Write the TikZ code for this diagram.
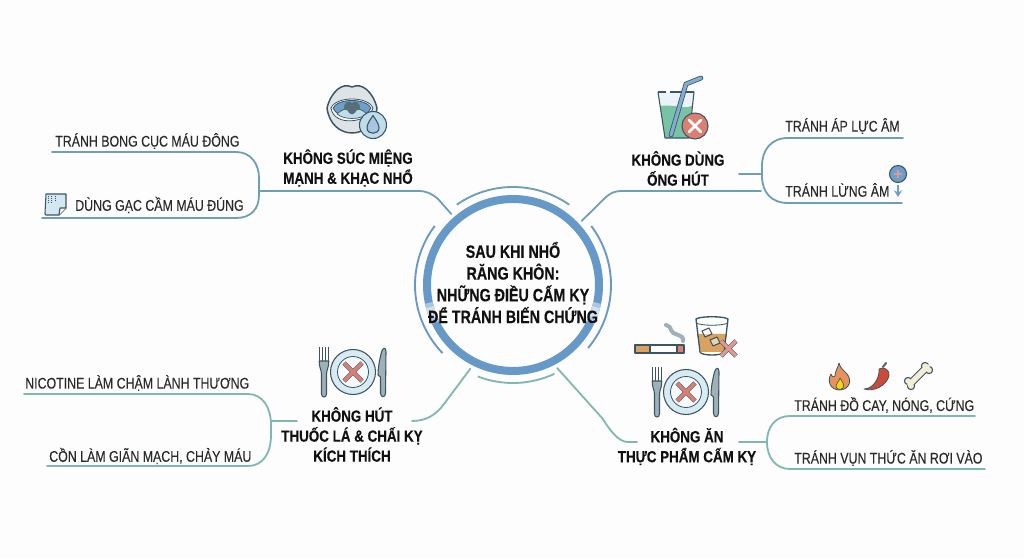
\documentclass[tikz,border=0pt]{standalone}
\usepackage{fontspec}
\usetikzlibrary{arrows.meta}
\setmainfont[FakeStretch=0.80,FakeBold=0.12]{Liberation Sans}
\newfontfamily\hubfont[FakeStretch=0.80,BoldFeatures={FakeBold=0.3}]{Liberation Sans}
\newfontfamily\branchfont[FakeStretch=0.83,BoldFeatures={FakeBold=0.3}]{Liberation Sans}
\definecolor{bgc}{HTML}{FDFDFD}
\definecolor{ringb}{HTML}{6699C7}
\definecolor{lineb}{HTML}{6F9FB5}
\definecolor{linet}{HTML}{7FB8B0}
\definecolor{ink}{HTML}{111111}
\definecolor{icoline}{HTML}{3C5563}
\definecolor{icoblue}{HTML}{6C9FC9}
\definecolor{icopale}{HTML}{BFDDEB}
\definecolor{icored}{HTML}{DC7F73}
\definecolor{icogrey}{HTML}{9FB0B8}
\definecolor{icoteal}{HTML}{78C3A5}
\definecolor{whisky}{HTML}{D9A35F}
\definecolor{flame}{HTML}{E8935A}
\definecolor{chili}{HTML}{CB4B36}
\definecolor{bonec}{HTML}{F3EDD6}
\tikzset{
 hubtext/.style={font=\hubfont\bfseries\fontsize{13.4}{16.3}\selectfont,align=center,text=ink,inner sep=0pt},
 branchtext/.style={font=\branchfont\bfseries\fontsize{12.1}{15}\selectfont,align=center,text=ink,inner sep=0pt},
 leaftext/.style={font=\fontsize{11.6}{14}\selectfont,text=ink!90,inner sep=0pt},
 bluelink/.style={draw=lineb,line width=1.35pt,line cap=round},
 teallink/.style={draw=linet,line width=1.35pt,line cap=round},
 ico/.style={draw=icoline,line width=0.8pt,line join=round},
}
\newcommand{\plateicon}[2]{%
 \begin{scope}[shift={(#1,#2)}]
  \fill[icopale!60,ico] (0,0) circle (22.5);
  \fill[icopale!15,ico,line width=0.6pt] (0,0) circle (15.5);
  \draw[icoline,line width=3.4pt] (-9,-9)--(9,9) (-9,9)--(9,-9);
  \draw[icored,line width=2.4pt] (-9,-9)--(9,9) (-9,9)--(9,-9);
  % fork
  \foreach \t in {-33.5,-30.5,-27.5,-24.5}{\draw[icoline,line width=0.95pt] (\t,-25)--(\t,-10);}
  \draw[ico,fill=icogrey] (-33.8,-11) .. controls (-33.8,-4) and (-31.8,-3) .. (-31.5,2) -- (-31.5,22) .. controls (-31.5,26) and (-26.5,26) .. (-26.5,22) -- (-26.5,2) .. controls (-26.2,-3) and (-24.2,-4) .. (-24.2,-11) -- cycle;
  % knife
  \draw[ico,fill=icogrey] (27.5,21) .. controls (27.5,26) and (32.5,26) .. (32.5,21) -- (33,-20) .. controls (33,-25) and (30,-25) .. (28.5,-20) .. controls (26,-10) and (25,-3) .. (25,3) -- (27.5,5) -- cycle;
 \end{scope}}
\newcommand{\crossball}[3]{%
  \fill[icored,ico] (#1,#2) circle (#3);
  \draw[white,line width=2pt,line cap=round] (#1-6,#2-6)--(#1+6,#2+6) (#1-6,#2+6)--(#1+6,#2-6);}
\begin{document}
\begin{tikzpicture}[x=0.75pt,y=-0.75pt]
\useasboundingbox (0,0) rectangle (1024,559);
\fill[bgc] (0,0) rectangle (1024,559);

% hub
\node[circle,minimum size=141pt,inner sep=0pt,outer sep=0pt] (hub) at (513,285) {};
\draw[ringb,line width=6pt] (hub.center) circle (86);
\draw[ringb!55,line width=6pt] ([shift={(12:86)}]hub.center) arc (12:26:86);
\draw[ringb!55,line width=6pt] ([shift={(168:86)}]hub.center) arc (168:154:86);
\draw[ringb!30,line width=6pt] ([shift={(15:86)}]hub.center) arc (15:22:86);
\draw[ringb!30,line width=6pt] ([shift={(165:86)}]hub.center) arc (165:158:86);
\draw[lineb,line width=1.4pt] ([shift={(-125:98)}]hub.center) arc (-125:-55:98);
\draw[ringb,line width=1.4pt] ([shift={(-37:98)}]hub.center) arc (-37:40:98);
\draw[ringb,line width=1.4pt] ([shift={(-143:98)}]hub.center) arc (-143:-224:98);
\draw[linet,line width=1.4pt] ([shift={(111:98)}]hub.center) arc (111:65:98);
\node[hubtext] (hubt) at (513,282.5) {SAU KHI NHỔ\\RĂNG KHÔN:\\NHỮNG ĐIỀU CẤM KỴ\\ĐỂ TRÁNH BIẾN CHỨNG};

% branch labels
\node[branchtext] (b1) at (348,168) {KHÔNG SÚC MIỆNG\\MẠNH \& KHẠC NHỔ};
\node[branchtext] (b2) at (678,168.5) {KHÔNG DÙNG\\ỐNG HÚT};
\node[branchtext] (b3) at (687,446.5) {KHÔNG ĂN\\THỰC PHẨM CẤM KỴ};
\node[branchtext] (b4) at (352,434.5) {KHÔNG HÚT\\THUỐC LÁ \& CHẤI KỴ\\KÍCH THÍCH};

% leaves
\node[leaftext,anchor=west] (l1) at (55,141) {TRÁNH BONG CỤC MÁU ĐÔNG};
\node[leaftext,anchor=west] (l2) at (75,205) {DÙNG GẠC CẦM MÁU ĐÚNG};
\node[leaftext,anchor=west] (l3) at (785,126) {TRÁNH ÁP LỰC ÂM};
\node[leaftext,anchor=west] (l4) at (785,190) {TRÁNH LỪNG ÂM};
\node[leaftext,anchor=west] (l5) at (794,405) {TRÁNH ĐỒ CAY, NÓNG, CỨNG};
\node[leaftext,anchor=west] (l6) at (794,458) {TRÁNH VỤN THỨC ĂN RƠI VÀO};
\node[leaftext,anchor=west] (l7) at (25,383) {NICOTINE LÀM CHẬM LÀNH THƯƠNG};
\node[leaftext,anchor=west] (l8) at (49,456) {CỒN LÀM GIÃN MẠCH, CHẢY MÁU};

% free ends of connectors
\coordinate (j1) at (259,191);
\coordinate (e1a) at (52,152);
\coordinate (e1b) at (42,218);
\coordinate (j2) at (761,191);
\coordinate (s2) at (739,174);
\coordinate (k2) at (762,174);
\coordinate (e2a) at (903,138);
\coordinate (e2b) at (902,203);
\coordinate (j3) at (637,442);
\coordinate (s3) at (739,442);
\coordinate (k3) at (767,442);
\coordinate (e3a) at (975,416);
\coordinate (e3b) at (985,469);
\coordinate (j4) at (412,421);
\coordinate (s4) at (297,421);
\coordinate (k4) at (271,421);
\coordinate (e4a) at (24,394);
\coordinate (e4b) at (47,466);

% connectors
\draw[bluelink] (hub.131) -- (438,199) .. controls (431,193) and (426,191) .. (418,191) -- (j1);
\draw[bluelink] (e1a) -- (236,152) .. controls (251,152) and (259,164) .. (259,178) -- (259,195) .. controls (259,209) and (251,218) .. (236,218) -- (e1b);
\draw[bluelink] (hub.43) -- (606,197) .. controls (612,192) and (616,191) .. (622,191) -- (j2);
\draw[bluelink] (s2) -- (k2);
\draw[bluelink] (e2a) -- (788,138) .. controls (771,138) and (762,150) .. (762,166) -- (762,176) .. controls (762,192) and (771,203) .. (788,203) -- (e2b);
\draw[teallink] (hub.-62) -- (602,418) .. controls (610,430) and (618,442) .. (628,442) -- (j3);
\draw[teallink] (s3) -- (k3);
\draw[teallink] (e3a) -- (790,416) .. controls (776,416) and (767,426) .. (767,442) .. controls (767,458) and (776,469) .. (790,469) -- (e3b);
\draw[teallink] (hub.-117) -- (444,404) .. controls (436,415) and (426,421) .. (j4);
\draw[teallink] (s4) -- (k4);
\draw[teallink] (e4a) -- (248,394) .. controls (263,394) and (271,408) .. (271,425) -- (271,435) .. controls (271,453) and (263,466) .. (248,466) -- (e4b);

% mouth icon
\fill[icogrey!35,ico,line width=1.1pt] (327,108) .. controls (331,92) and (342,82) .. (352,87) .. controls (362,82) and (373,92) .. (377,108) .. controls (375,124) and (364,133) .. (352,133) .. controls (340,133) and (329,124) .. (327,108) -- cycle;
\fill[white,ico,line width=0.6pt] (331,108) .. controls (336,96) and (368,96) .. (373,108) .. controls (370,122) and (334,128) .. (331,108) -- cycle;
\fill[icoblue,ico,line width=0.6pt] (333,108) .. controls (338,98) and (366,98) .. (371,108) .. controls (368,119) and (336,119) .. (333,108) -- cycle;
\fill[icopale,draw=icoline,line width=0.5pt] (337,114) .. controls (345,106) and (359,106) .. (367,114) .. controls (360,120) and (344,120) .. (337,114) -- cycle;
\fill[icoline!85] (344,109) .. controls (344,101) and (349,100) .. (352,103) .. controls (355,100) and (360,101) .. (360,109) .. controls (358,111) and (356,109) .. (355,113) .. controls (353,115) and (351,115) .. (349,113) .. controls (348,109) and (346,111) .. (344,109) -- cycle;
\fill[icopale,ico] (373,125) circle (13.5);
\fill[icoblue!60,ico] (373,115.5) .. controls (370,120) and (367,124) .. (367,128) .. controls (367,135) and (379,135) .. (379,128) .. controls (379,124) and (376,120) .. (373,115.5) -- cycle;

% glass icon
\fill[icopale!35] (658,92) -- (694,92) -- (692,106) -- (660,106) -- cycle;
\fill[icoteal] (660,106) .. controls (672,104) and (682,109) .. (692,106) -- (689,138) -- (665,138) -- cycle;
\draw[ico] (658,92) -- (665,138) -- (689,138) -- (694,92);
\draw[ico] (658,92) -- (666,92) (670,92) -- (694,92);
\draw[icoline,line width=3.6pt,line cap=round] (671,135) -- (686,84) -- (701,78);
\draw[icoblue!85,line width=2.4pt,line cap=round] (671,135) -- (686,84) -- (701,78);
\crossball{695}{126}{13}

% cigarette, tumbler
\fill[whisky,ico] (635,345) rectangle (650,353);
\fill[white,ico] (650,345) rectangle (677,353);
\fill[icored,ico] (677,345) rectangle (684,353);
\draw[icogrey,line width=3pt,line cap=round] (683,341) .. controls (684,333) and (672,336) .. (671,330) .. controls (670,326) and (668,326) .. (666,325);
\fill[whisky] (697,334) -- (727,334) -- (723,352) -- (701,352) -- cycle;
\draw[ico,line width=1pt] (696,319) .. controls (700,316) and (724,316) .. (728,319) -- (724,352) .. controls (723,356) and (701,356) .. (700,352) -- cycle;
\draw[icoline,line width=0.6pt] (696,323) .. controls (702,326) and (722,326) .. (728,323);
\draw[ico,fill=white,fill opacity=0.5] (702,331) -- (709,328) -- (712,334) -- (705,337) -- cycle;
\draw[ico,fill=white,fill opacity=0.5] (710,340) -- (717,337) -- (720,343) -- (713,346) -- cycle;
\draw[icoline,line width=3.4pt] (721,341) -- (736,356) (736,341) -- (721,356);
\draw[icored!80,line width=2.4pt] (721,341) -- (736,356) (736,341) -- (721,356);

% plates
\plateicon{353}{372}
\plateicon{686}{392}

% flame
\fill[flame,ico,line width=0.6pt] (839,363) .. controls (841,370) and (845,371) .. (847,374) .. controls (852,380) and (850,389) .. (840,390) .. controls (830,390) and (827,381) .. (831,374) .. controls (832,377) and (834,378) .. (835,376) .. controls (835,371) and (838,368) .. (839,363) -- cycle;
\fill[yellow!75!orange,ico,line width=0.5pt] (840,378) .. controls (842,382) and (845,384) .. (843,388) .. controls (841,390) and (836,390) .. (836,386) .. controls (836,383) and (839,382) .. (840,378) -- cycle;
% chili
\fill[chili,ico,line width=0.6pt] (864,389) .. controls (873,389) and (880,378) .. (879,369) .. controls (884,366) and (890,370) .. (889,376) .. controls (886,386) and (874,392) .. (864,389) -- cycle;
\draw[icoteal!60!black,line width=1.6pt,line cap=round] (883,367) -- (886,363);
% bone
\draw[icoline,line width=5.6pt,line cap=round] (911,383) -- (926,368);
\draw[icoline,fill=bonec,line width=0.8pt] (908,381) circle (3.6) (911,386) circle (3.6) (925,366) circle (3.6) (929,370) circle (3.6);
\draw[bonec,line width=4.2pt,line cap=round] (910,384) -- (927,367);

% note icon
\fill[icopale!70,ico] (46,194) -- (66,194) -- (66,208) -- (59,215) -- (46,215) .. controls (45,215) and (45,214) .. (45,213) -- cycle;
\draw[ico,fill=white] (66,208) -- (60,208) -- (59,215);
\draw[icoline,line width=0.6pt,dotted] (48,196) -- (56,196) (48,198) -- (56,198) (48,200) -- (56,200) (48,202) -- (54,202);

% pressure icon
\fill[icoblue,ico] (898,174) circle (8.5);
\draw[icored!80,line width=1.8pt] (894,174) -- (902,174) (898,170) -- (898,178);
\draw[icoblue,line width=2.2pt,-{Stealth[length=5pt,width=6pt]}] (898,185) -- (898,197);
\end{tikzpicture}
\end{document}
